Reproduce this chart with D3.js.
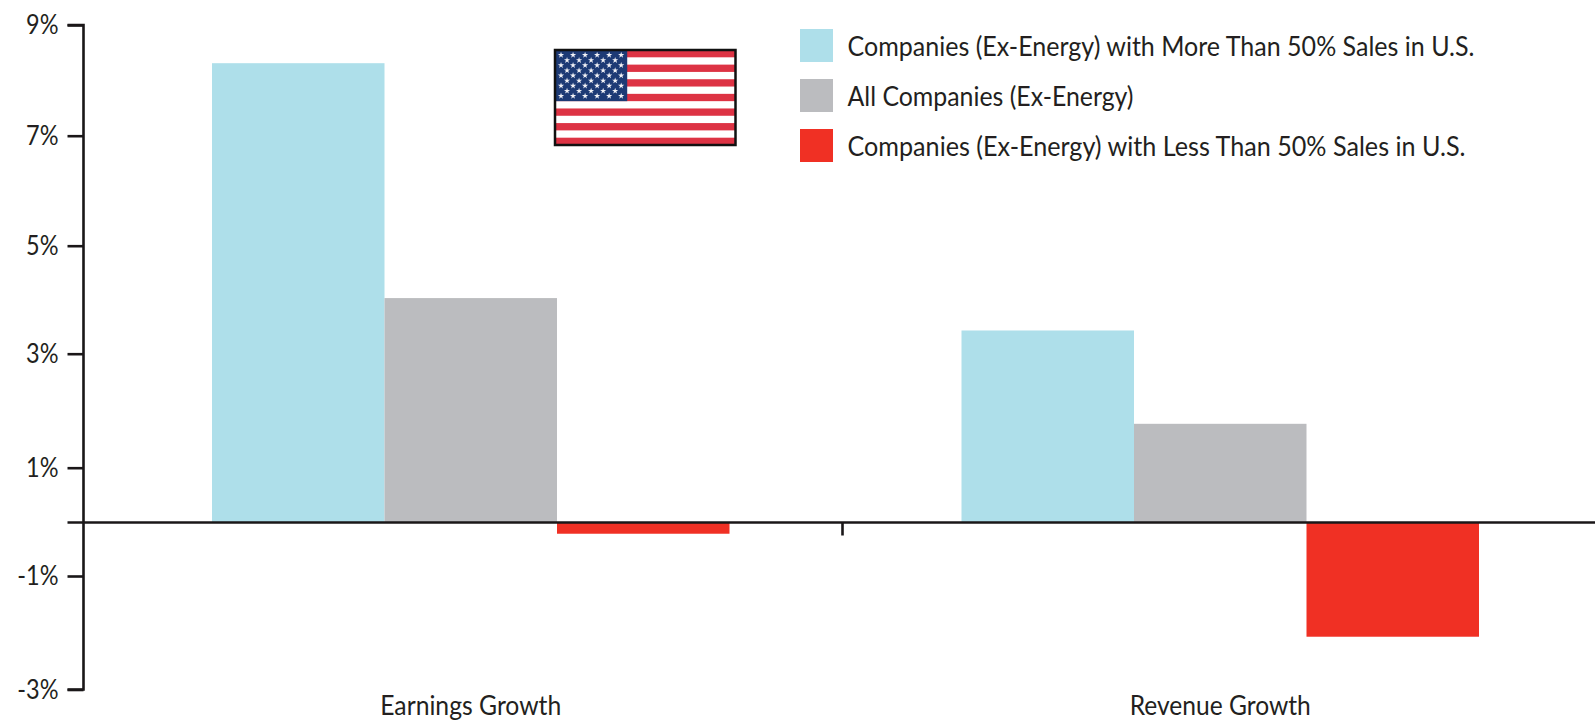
<!DOCTYPE html>
<html>
<head>
<meta charset="utf-8">
<script src="https://cdn.jsdelivr.net/npm/d3@7"></script>
<style>
  html, body { margin: 0; padding: 0; background: #fff; overflow: hidden; }
  text { font-family: Lato, "Open Sans", sans-serif; fill: #231f20; }
</style>
</head>
<body>
<svg id="chart" width="1595" height="720"></svg>
<script>
// Chart data
const categories = ["Earnings Growth", "Revenue Growth"];
const seriesNames = [
  "Companies (Ex-Energy) with More Than 50% Sales in U.S.",
  "All Companies (Ex-Energy)",
  "Companies (Ex-Energy) with Less Than 50% Sales in U.S."
];
const moreThan50 = [8.31, 3.43];
const allCompanies = [4.03, 1.77];
const lessThan50 = [-0.21, -2.07];
const tickValues = [9, 7, 5, 3, 1, -1, -3];
const seriesValues = [moreThan50, allCompanies, lessThan50];
const colors = ["#aedfea", "#bbbcbf", "#f03024"];

const svg = d3.select("#chart");

// Scales (the source axis is not quite evenly spaced, so y has a stop per tick)
const y = d3.scaleLinear()
    .domain([-3, -1, 0, 1, 3, 5, 7, 9])
    .range([689.5, 576, 522.5, 467.7, 353.7, 245.7, 135.7, 25]);
const x0 = d3.scaleBand().domain(categories).range([96, 1595]);
const barWidth = 172.5;
const x1 = d3.scaleBand().domain(d3.range(seriesNames.length))
    .range([x0.bandwidth() / 2 - barWidth * 1.5, x0.bandwidth() / 2 + barWidth * 1.5]);

// Bars
categories.forEach((cat, i) => {
  seriesValues.forEach((vals, s) => {
    svg.append("rect")
      .attr("x", x0(cat) + x1(s))
      .attr("y", y(Math.max(0, vals[i])))
      .attr("width", x1.bandwidth())
      .attr("height", Math.abs(y(vals[i]) - y(0)))
      .attr("fill", colors[s]);
  });
});

// Y axis
const yAxis = svg.append("g")
  .attr("transform", "translate(83.5,0)")
  .call(d3.axisLeft(y).tickValues(tickValues).tickSize(16).tickPadding(9)
    .tickFormat(d => d + "%"));
yAxis.selectAll("line, path").attr("stroke", "#1a1718").attr("stroke-width", 2.6);
yAxis.select(".domain").attr("d", `M-16,${y(9)}H0V${y(-3)}H-16`).attr("fill", "none");
yAxis.selectAll("text")
  .attr("font-size", 27)
  .style("font-family", "Lato")
  .attr("dy", "0.33em")
  .each(function () {
    // squeeze the labels, the source font is narrower than Lato
    d3.select(this)
      .attr("textLength", this.getComputedTextLength() * 0.87)
      .attr("lengthAdjust", "spacingAndGlyphs");
  });

// Zero line and the tick between the two groups
svg.append("line")
  .attr("x1", 67.5).attr("x2", 1595)
  .attr("y1", y(0)).attr("y2", y(0))
  .attr("stroke", "#1a1718").attr("stroke-width", 2.6);
svg.append("line")
  .attr("x1", x0(categories[1]) - 3).attr("x2", x0(categories[1]) - 3)
  .attr("y1", y(0)).attr("y2", y(0) + 13)
  .attr("stroke", "#1a1718").attr("stroke-width", 2.6);

// Category labels
const catLengths = [181, 181];
svg.selectAll(".cat-label")
  .data(categories)
  .enter()
  .append("text")
  .attr("class", "cat-label")
  .attr("x", d => x0(d) + x0.bandwidth() / 2)
  .attr("y", 714.5)
  .attr("text-anchor", "middle")
  .attr("font-size", 27)
  .attr("textLength", (d, i) => catLengths[i])
  .attr("lengthAdjust", "spacingAndGlyphs")
  .text(d => d);

// Legend
const legendTop = [29, 79, 129];
const legendLengths = [627, 286, 618];
const legend = svg.selectAll(".legend-item")
  .data(seriesNames)
  .enter()
  .append("g")
  .attr("class", "legend-item")
  .attr("transform", (d, i) => `translate(800,${legendTop[i]})`);
legend.append("rect")
  .attr("width", 33)
  .attr("height", 33)
  .attr("fill", (d, i) => colors[i]);
legend.append("text")
  .attr("x", 47.5)
  .attr("y", 27)
  .attr("font-size", 27)
  .attr("textLength", (d, i) => legendLengths[i])
  .attr("lengthAdjust", "spacingAndGlyphs")
  .text(d => d);

// US flag
const flagX = d3.scaleLinear().domain([0, 1]).range([555, 735.5]);
const flagY = d3.scaleLinear().domain([0, 13]).range([50, 145]);
const flag = svg.append("g");
flag.append("rect")
  .attr("x", flagX(0)).attr("y", flagY(0))
  .attr("width", flagX(1) - flagX(0)).attr("height", flagY(13) - flagY(0))
  .attr("fill", "#fff");
d3.range(0, 13, 2).forEach(i => {
  flag.append("rect")
    .attr("x", flagX(0)).attr("y", flagY(i))
    .attr("width", flagX(1) - flagX(0)).attr("height", flagY(1) - flagY(0))
    .attr("fill", "#dd3344");
});
flag.append("rect")
  .attr("x", flagX(0)).attr("y", flagY(0))
  .attr("width", flagX(0.4) - flagX(0)).attr("height", flagY(7) - flagY(0))
  .attr("fill", "#1d3a75");
const star = d3.symbol().type(d3.symbolStar).size(12);
d3.range(9).forEach(row => {
  const count = row % 2 === 0 ? 6 : 5;
  d3.range(count).forEach(col => {
    const u = (col + (row % 2 === 0 ? 0.5 : 1)) / 6;
    flag.append("path")
      .attr("d", star)
      .attr("fill", "#f2f2f6")
      .attr("transform", `translate(${flagX(0.4 * u)},${flagY(7 * (row + 1) / 10)})`);
  });
});
flag.append("rect")
  .attr("x", flagX(0)).attr("y", flagY(0))
  .attr("width", flagX(1) - flagX(0)).attr("height", flagY(13) - flagY(0))
  .attr("fill", "none")
  .attr("stroke", "#111")
  .attr("stroke-width", 2.5);
</script>
</body>
</html>
